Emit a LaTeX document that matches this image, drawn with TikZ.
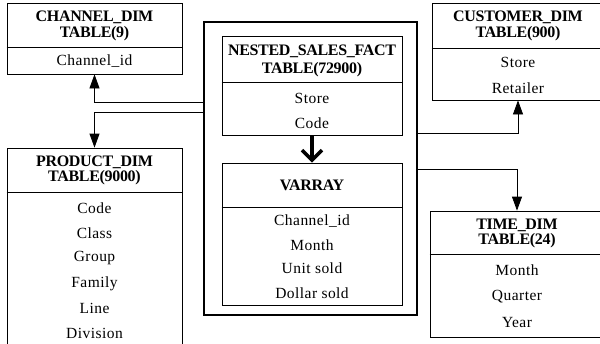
\documentclass[tikz,border=0pt]{standalone}
\usepackage{fontspec}
\setmainfont{Liberation Serif}
\newfontfamily\fldfont[LetterSpace=3]{Liberation Serif}
\newfontfamily\hdfont[LetterSpace=-2]{Liberation Serif}
\usetikzlibrary{arrows.meta}
\begin{document}
\begin{tikzpicture}[x=1pt,y=-1pt,
  tbl/.style={draw, line width=0.8pt, inner sep=0pt, rectangle},
  bigbox/.style={draw, line width=2pt, inner sep=0pt, rectangle},
  hd/.style={inner sep=0pt, font=\fontsize{16}{18}\hdfont\bfseries},
  fld/.style={inner sep=0pt, font=\fontsize{15.5}{18}\fldfont},
  link/.style={line width=0.8pt, -{Triangle[length=14pt,width=10pt]}},
  nest/.style={line width=3.5pt, -{Straight Barb[length=10pt,width=20pt]}}
]
\useasboundingbox (0,0) rectangle (600,343);
\clip (0,0) rectangle (600,343);
\fill[white] (0,0) rectangle (600,343);

% big outer box
\node[bigbox, minimum width=213pt, minimum height=293pt] (big) at (310.5,168.5) {};

% CHANNEL_DIM
\node[tbl, minimum width=175pt, minimum height=71pt] (chan) at (94.5,38.5) {};
\draw[line width=0.8pt] (chan.west |- 0,47) -- (chan.east |- 0,47);
\node[hd] (chan1) at (94.5,17) {CHANNEL\_DIM};
\node[hd] (chan2) at (94.5,34) {TABLE(9)};
\node[fld] (chan3) at (94.5,61) {Channel\_id};

% NESTED_SALES_FACT
\node[tbl, minimum width=180pt, minimum height=99pt] (nsf) at (312,85.5) {};
\draw[line width=0.8pt] (nsf.west |- 0,82) -- (nsf.east |- 0,82);
\node[hd] (nsf1) at (312,51) {NESTED\_SALES\_FACT};
\node[hd] (nsf2) at (312,70) {TABLE(72900)};
\node[fld] (nsf3) at (312,98) {Store};
\node[fld] (nsf4) at (312,123) {Code};

% VARRAY
\node[tbl, minimum width=180pt, minimum height=142pt] (var) at (312,234) {};
\draw[line width=0.8pt] (var.west |- 0,207) -- (var.east |- 0,207);
\node[hd] (var1) at (312,185) {VARRAY};
\node[fld] (var2) at (312,221) {Channel\_id};
\node[fld] (var3) at (312,245) {Month};
\node[fld] (var4) at (312,268) {Unit sold};
\node[fld] (var5) at (312,293) {Dollar sold};

% CUSTOMER_DIM
\node[tbl, minimum width=172pt, minimum height=97pt] (cust) at (518,51.5) {};
\draw[line width=0.8pt] (cust.west |- 0,48) -- (cust.east |- 0,48);
\node[hd] (cust1) at (518,17) {CUSTOMER\_DIM};
\node[hd] (cust2) at (518,34) {TABLE(900)};
\node[fld] (cust3) at (518,62) {Store};
\node[fld] (cust4) at (518,88) {Retailer};

% PRODUCT_DIM
\node[tbl, minimum width=175pt, minimum height=202pt] (prod) at (94.5,249) {};
\draw[line width=0.8pt] (prod.west |- 0,192) -- (prod.east |- 0,192);
\node[hd] (prod1) at (94.5,162) {PRODUCT\_DIM};
\node[hd] (prod2) at (94.5,178) {TABLE(9000)};
\node[fld] (prod3) at (94.5,208) {Code};
\node[fld] (prod4) at (94.5,233) {Class};
\node[fld] (prod5) at (94.5,258) {Group};
\node[fld] (prod6) at (94.5,284) {Family};
\node[fld] (prod7) at (94.5,308) {Line};
\node[fld] (prod8) at (94.5,333) {Division};

% TIME_DIM
\node[tbl, minimum width=174pt, minimum height=126pt] (time) at (517,274) {};
\draw[line width=0.8pt] (time.west |- 0,254) -- (time.east |- 0,254);
\node[hd] (time1) at (517,225) {TIME\_DIM};
\node[hd] (time2) at (517,241) {TABLE(24)};
\node[fld] (time3) at (517,270) {Month};
\node[fld] (time4) at (517,297) {Quarter};
\node[fld] (time5) at (517,322) {Year};

% connectors
\draw[link] (big.west |- 0,102) -| (chan.south);
\draw[link] (big.west |- 0,112) -| (prod.north);
\draw[link] (big.east |- 0,133) -| (cust.south);
\draw[link] (big.east |- 0,169) -| (time.north);
\draw[nest] (nsf.south) -- (var.north);
\end{tikzpicture}
\end{document}
